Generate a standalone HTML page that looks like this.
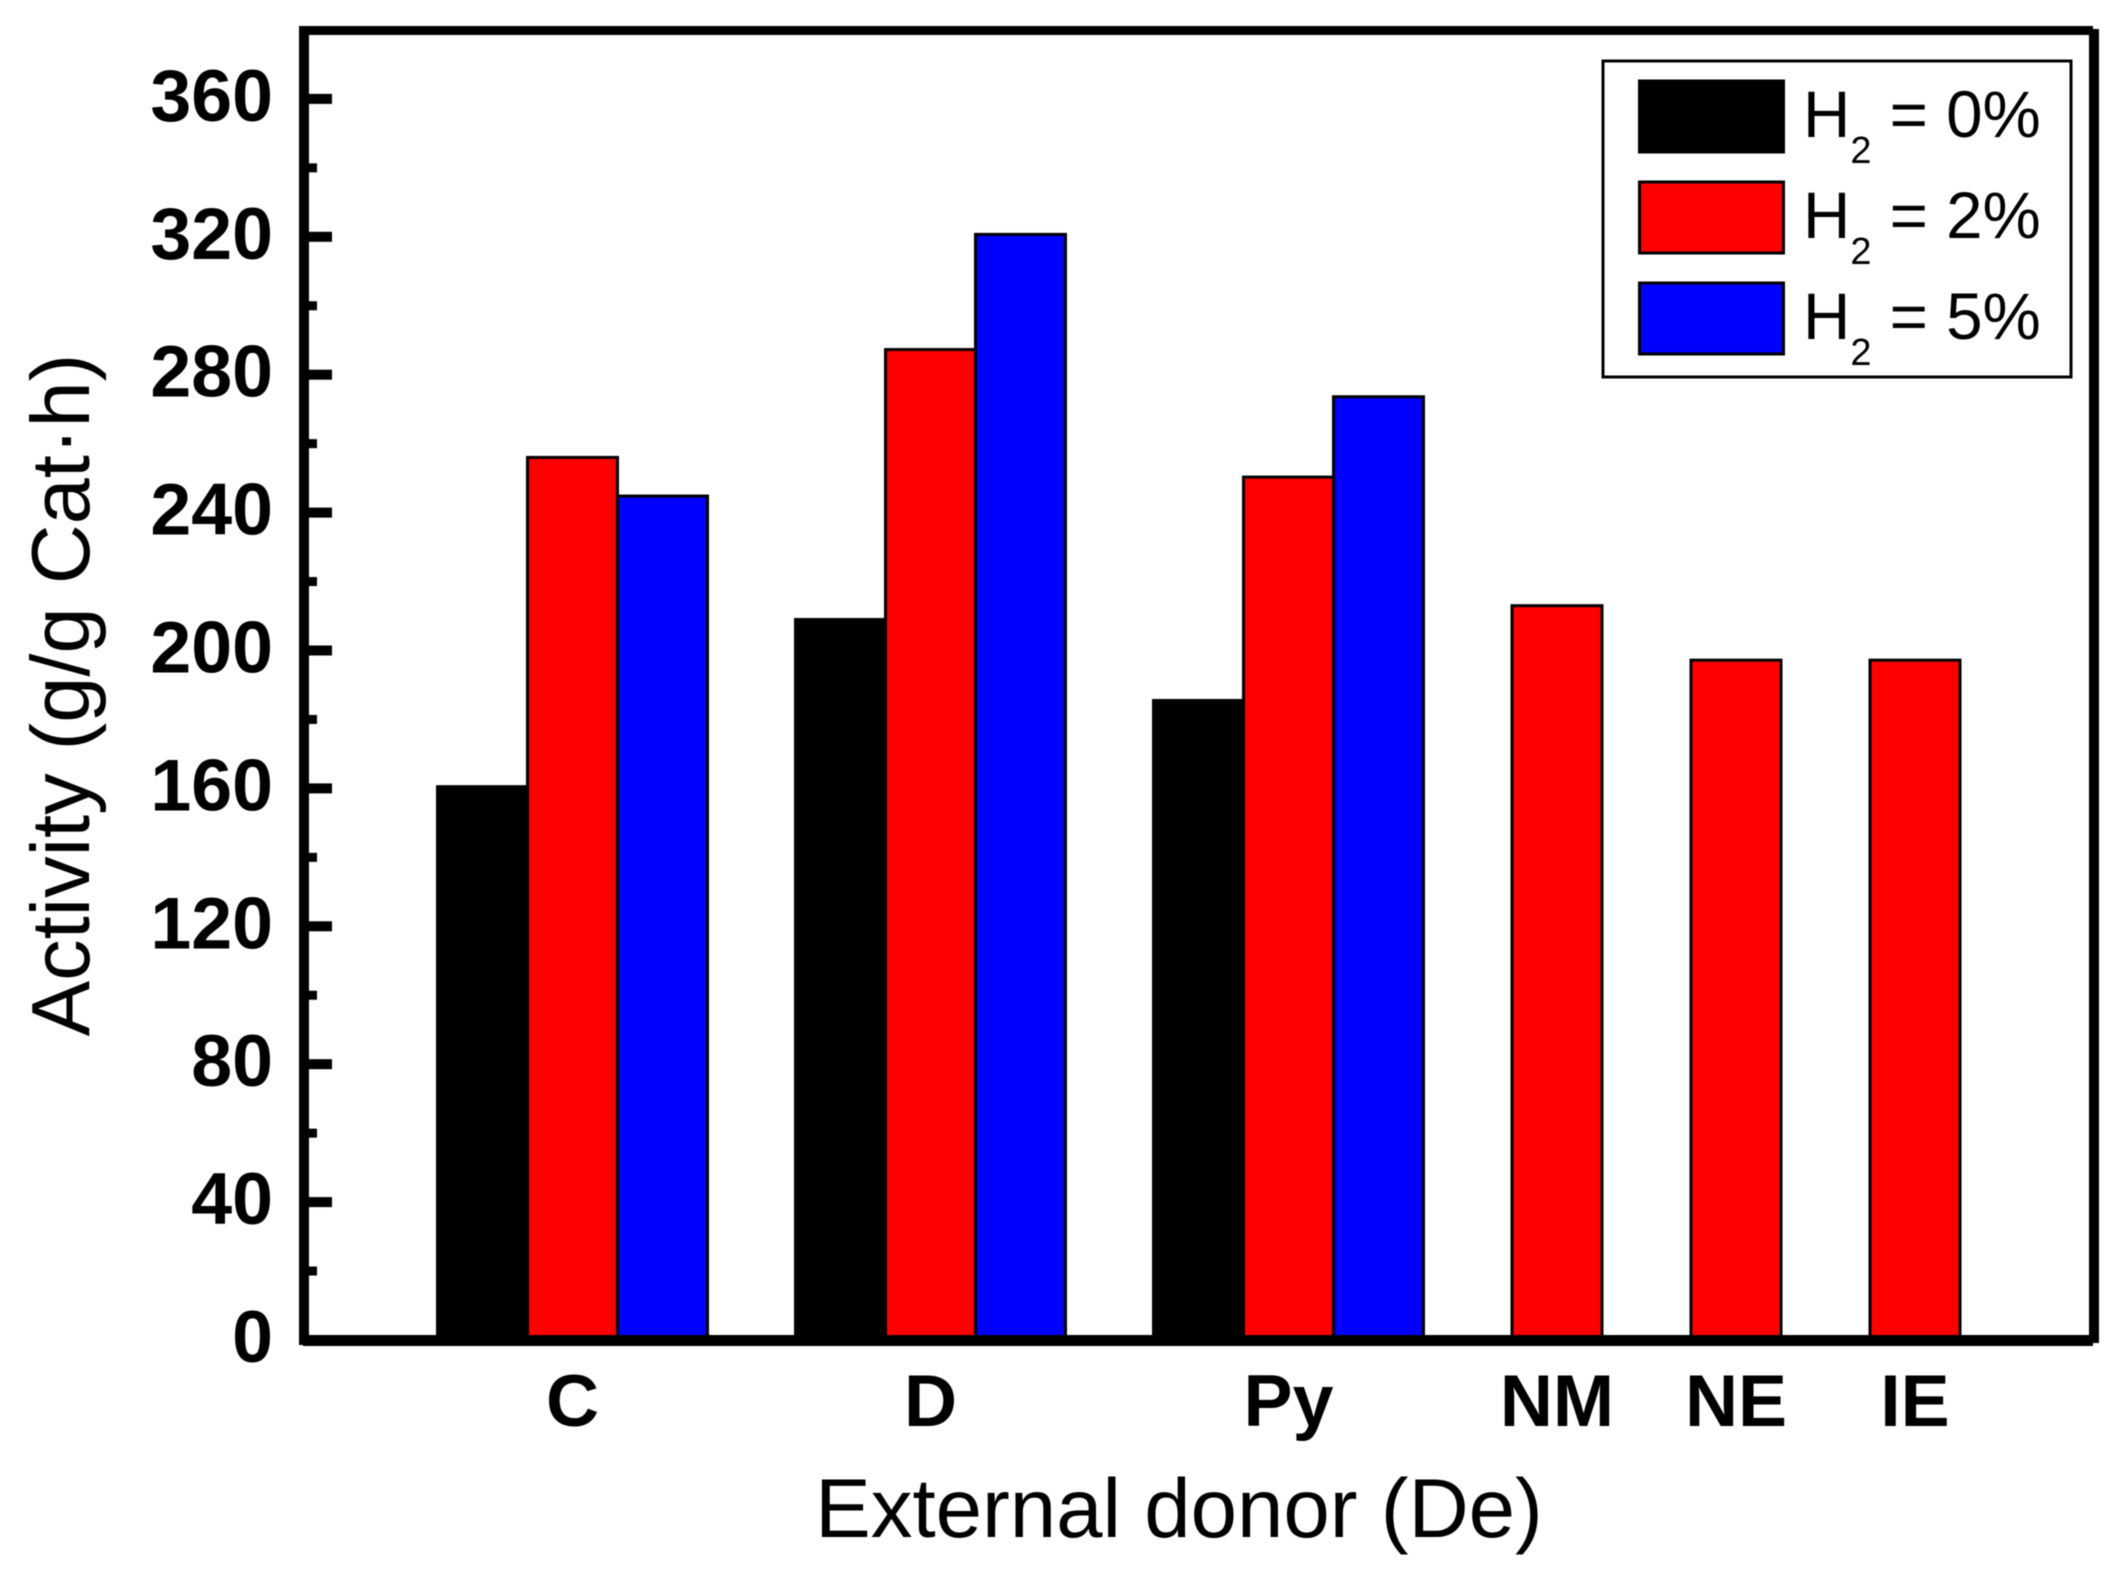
<!DOCTYPE html>
<html>
<head>
<meta charset="utf-8">
<title>Activity vs external donor</title>
<style>
html,body{margin:0;padding:0;background:#fff;overflow:hidden;}
svg{display:block;filter:blur(0.6px);}
text{font-family:"Liberation Sans",sans-serif;fill:#000;white-space:pre;}
</style>
</head>
<body>
<svg id="chart" xmlns="http://www.w3.org/2000/svg" width="2125" height="1579" viewBox="0 0 2125 1579">
  <rect x="0" y="0" width="2125" height="1579" fill="#fff"/>
  <g id="bars"></g>
  <g id="axes"></g>
  <g id="legend"></g>
  <text x="1179" y="1537" font-size="83.4" text-anchor="middle">External donor (De)</text>
  <text transform="translate(89,695) rotate(-90)" font-size="83" text-anchor="middle">Activity (g/g Cat·h)</text>
</svg>
<script>
const categories = ['C', 'D', 'Py', 'NM', 'NE', 'IE'];
const categoryPositions = [1, 3, 5, 6.5, 7.5, 8.5];
const seriesNames = ['0%', '2%', '5%'];
const seriesKeys = ['h2-0', 'h2-2', 'h2-5'];
const seriesColors = ['#000000', '#ff0000', '#0000ff'];
const valuesH2Zero = [160.5, 209, 185.5, null, null, null];
const valuesH2Two = [256, 287.3, 250.3, 213, 197.2, 197.2];
const valuesH2Five = [244.8, 320.7, 273.6, null, null, null];
const yTicks = [0, 40, 80, 120, 160, 200, 240, 280, 320, 360];
const yMinorTicks = [20, 60, 100, 140, 180, 220, 260, 300, 340];

const allSeries = [valuesH2Zero, valuesH2Two, valuesH2Five];
const NS = 'http://www.w3.org/2000/svg';
const plotLeft = 304, plotRight = 2094, plotTop = 30, plotBottom = 1340;
const yUnit = 137.9 / 40;
const xUnit = 179;
const barWidth = 90;

function yScale(v) { return plotBottom - v * yUnit; }
function xScale(p) { return 572.5 + (p - 1) * xUnit; }

function make(tag, attrs, parent) {
  const el = document.createElementNS(NS, tag);
  for (const k in attrs) el.setAttribute(k, attrs[k]);
  parent.appendChild(el);
  return el;
}

const barsG = document.getElementById('bars');
const axesG = document.getElementById('axes');
const legendG = document.getElementById('legend');

categories.forEach(function (cat, i) {
  const active = [];
  allSeries.forEach(function (s, si) { if (s[i] !== null) active.push(si); });
  active.forEach(function (si, order) {
    const cx = xScale(categoryPositions[i]) + (order - (active.length - 1) / 2) * barWidth;
    const top = yScale(allSeries[si][i]);
    const bar = make('rect', {
      x: cx - barWidth / 2, y: top, width: barWidth, height: plotBottom - top,
      fill: seriesColors[si], stroke: '#000', 'stroke-width': 3
    }, barsG);
    
    
  });
  const label = make('text', {
    x: xScale(categoryPositions[i]), y: 1426, 'font-size': 73.5, 'font-weight': 'bold', 'text-anchor': 'middle'
  }, axesG);
  label.textContent = cat;
  
  
});

yTicks.forEach(function (t) {
  const y = yScale(t);
  const tick = make('rect', { x: plotLeft, y: y - 5, width: 28, height: 10, fill: '#000' }, axesG);
  
  
  const label = make('text', {
    x: 273, y: y + 22, 'font-size': 73.5, 'font-weight': 'bold', 'text-anchor': 'end'
  }, axesG);
  label.textContent = String(t);
  
  
});

yMinorTicks.forEach(function (t) {
  const tick = make('rect', { x: plotLeft, y: yScale(t) - 4.5, width: 13, height: 9, fill: '#000' }, axesG);
  
  
});

const axisLeft = make('rect', { x: plotLeft - 5, y: plotTop - 4, width: 10, height: plotBottom - plotTop + 9, fill: '#000' }, axesG);


const axisBottom = make('rect', { x: plotLeft - 1, y: plotBottom - 5, width: plotRight - plotLeft, height: 11, fill: '#000' }, axesG);


const axisTop = make('rect', { x: plotLeft - 1, y: plotTop - 4, width: plotRight - plotLeft, height: 9, fill: '#000' }, axesG);


const axisRight = make('rect', { x: plotRight - 5, y: plotTop - 1, width: 10, height: plotBottom - plotTop + 4, fill: '#000' }, axesG);



const legendBox = make('rect', { x: 1603, y: 61, width: 468, height: 316, fill: '#fff', stroke: '#000', 'stroke-width': 3 }, legendG);



seriesNames.forEach(function (name, i) {
  const step = 101;
  const swatch = make('rect', {
    x: 1639.5, y: 81 + i * step, width: 144, height: 71,
    fill: seriesColors[i], stroke: '#000', 'stroke-width': 3
  }, legendG);
  
  
  const label = make('text', { x: 1803, y: 137 + i * step, 'font-size': 65.5 }, legendG);
  
  
  label.appendChild(document.createTextNode('H'));
  const sub = make('tspan', { dy: 26, 'font-size': 38 }, label);
  sub.textContent = '2';
  const rest = make('tspan', { dy: -26 }, label);
  rest.textContent = ' = ' + name;
});
</script>
</body>
</html>
